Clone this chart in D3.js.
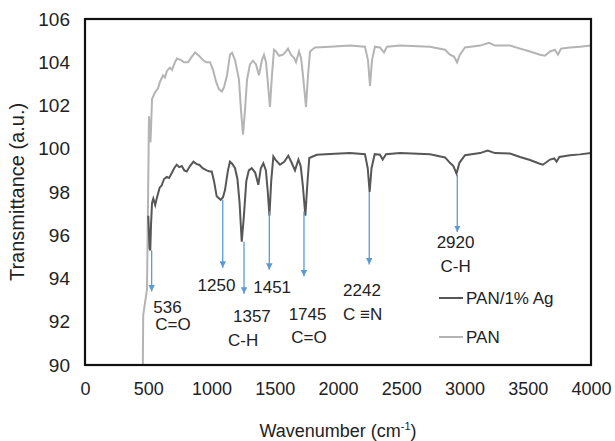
<!DOCTYPE html>
<html>
<head>
<meta charset="utf-8">
<script src="https://cdn.jsdelivr.net/npm/d3@7"></script>
<style>
  body { margin: 0; background: #fff; }
  text { font-family: "Liberation Sans", Arial, sans-serif; fill: #222; }
</style>
</head>
<body>
<div id="my_dataviz"></div>
<script>
// spectrum data: [wavenumber, transmittance]
const panData = [
  [455, 88], [460, 92.3], [490, 93.5], [506, 101.5], [518, 100.3], [530, 102.3],
  [553, 102.6], [577, 102.8], [593, 103.1], [617, 103.4], [632, 103.3], [648, 103.6],
  [672, 103.75], [688, 103.65], [711, 104.0], [727, 104.17], [759, 104.1], [783, 104.0],
  [814, 104.0], [838, 104.2], [870, 104.45], [901, 104.3], [933, 104.1], [957, 104.0],
  [988, 104.0], [1012, 103.65], [1036, 103.1], [1059, 102.75], [1083, 102.65], [1099, 102.85],
  [1123, 103.4], [1146, 104.35], [1162, 104.44], [1186, 104.1], [1217, 103.2], [1233, 101.8],
  [1249, 100.65], [1265, 101.8], [1281, 103.2], [1304, 103.9], [1328, 104.07], [1352, 103.9],
  [1375, 103.4], [1399, 104.1], [1415, 104.35], [1431, 104.0], [1447, 102.95], [1462, 101.93],
  [1478, 103.4], [1494, 104.58], [1510, 104.5], [1534, 104.3], [1565, 104.35], [1589, 104.5],
  [1605, 104.63], [1628, 104.35], [1652, 104.2], [1668, 104.0], [1692, 104.5], [1708, 104.2],
  [1723, 103.4], [1747, 101.93], [1763, 103.4], [1779, 104.5], [1818, 104.68], [1937, 104.72],
  [2095, 104.77], [2213, 104.72], [2237, 104.1], [2253, 102.9], [2269, 104.1], [2292, 104.72],
  [2332, 104.68], [2364, 104.45], [2387, 104.72], [2490, 104.77], [2727, 104.72], [2846, 104.58],
  [2885, 104.35], [2917, 104.26], [2941, 104.0], [2964, 104.35], [3004, 104.68], [3123, 104.77],
  [3194, 104.9], [3241, 104.77], [3360, 104.77], [3439, 104.63], [3518, 104.5], [3597, 104.35],
  [3636, 104.3], [3676, 104.5], [3715, 104.58], [3739, 104.35], [3763, 104.63], [3834, 104.68],
  [3913, 104.72], [4000, 104.77]
];

const panAgData = [
  [500, 96.9], [505, 96.2], [510, 95.4], [516, 95.3], [522, 96.5], [530, 97.5],
  [540, 97.7], [555, 97.4], [567, 97.7], [590, 98.2], [606, 98.3], [625, 98.6],
  [646, 98.7], [665, 98.65], [685, 98.87], [705, 99.1], [725, 99.26], [745, 99.15],
  [765, 99.2], [785, 99.0], [804, 98.95], [830, 99.2], [857, 99.4], [880, 99.3],
  [905, 99.25], [930, 99.1], [962, 99.0], [985, 98.95], [1002, 98.95], [1020, 98.5],
  [1041, 97.8], [1072, 97.64], [1090, 97.75], [1107, 98.1], [1130, 99.0], [1146, 99.4],
  [1165, 99.3], [1186, 99.1], [1205, 98.6], [1222, 97.5], [1239, 95.7], [1255, 96.8],
  [1275, 98.5], [1295, 99.0], [1318, 99.1], [1345, 98.9], [1370, 98.33], [1390, 99.1],
  [1410, 99.33], [1430, 99.0], [1445, 98.0], [1458, 96.9], [1472, 98.5], [1489, 99.64],
  [1505, 99.5], [1541, 99.26], [1575, 99.4], [1607, 99.68], [1630, 99.4], [1660, 99.0],
  [1687, 99.5], [1705, 99.2], [1722, 98.3], [1742, 96.9], [1758, 98.4], [1773, 99.57],
  [1832, 99.72], [1937, 99.76], [2095, 99.8], [2213, 99.75], [2235, 99.1], [2250, 98.0],
  [2265, 99.1], [2290, 99.75], [2332, 99.72], [2353, 99.5], [2380, 99.75], [2490, 99.8],
  [2727, 99.75], [2846, 99.6], [2885, 99.35], [2912, 99.2], [2937, 98.85], [2960, 99.35],
  [3004, 99.7], [3123, 99.8], [3183, 99.92], [3241, 99.8], [3360, 99.78], [3439, 99.62],
  [3518, 99.48], [3590, 99.32], [3620, 99.26], [3676, 99.5], [3710, 99.55], [3728, 99.4],
  [3750, 99.62], [3834, 99.7], [3913, 99.74], [4000, 99.8]
];

// peak annotations: arrow wavenumber, arrow top/bottom (a.u.)
const peakWave = [527, 1089, 1257, 1457, 1731, 2247, 2943];
const peakTop = [95.3, 97.64, 95.7, 97.1, 97.1, 98.0, 98.8];
const peakEnd = [93.4, 94.5, 93.3, 94.4, 94.1, 94.65, 96.15];
// peak labels: [wavenumber, transmittance, text]
const peakLabels = [
  [540, 92.4, "536"], [555, 91.6, "C=O"],
  [890, 93.4, "1250"],
  [1170, 92.0, "1357"], [1130, 90.9, "C-H"],
  [1330, 93.35, "1451"],
  [1610, 92.1, "1745"], [1630, 91.0, "C=O"],
  [2040, 93.2, "2242"], [2040, 92.1, "C \u2261N"],
  [2780, 95.4, "2920"], [2810, 94.3, "C-H"]
];

const xTicks = [0, 500, 1000, 1500, 2000, 2500, 3000, 3500, 4000];
const yTicks = [90, 92, 94, 96, 98, 100, 102, 104, 106];

const seriesNames = ["PAN/1% Ag", "PAN"];
const seriesColors = ["#575757", "#b4b4b4"];

const W = 615, H = 441;
const margin = {top: 19, right: 24, bottom: 76, left: 85};

const svg = d3.select("#my_dataviz")
  .append("svg")
    .attr("width", W)
    .attr("height", H);

const x = d3.scaleLinear().domain([0, 4000]).range([margin.left, W - margin.right]);
const y = d3.scaleLinear().domain([90, 106]).range([H - margin.bottom, margin.top]);

svg.append("defs").append("clipPath")
    .attr("id", "clip")
  .append("rect")
    .attr("x", x(0)).attr("y", y(106))
    .attr("width", x(4000) - x(0)).attr("height", y(90) - y(106));

svg.select("defs").append("marker")
    .attr("id", "arrow")
    .attr("viewBox", "0 0 10 10")
    .attr("refX", 10).attr("refY", 5)
    .attr("markerWidth", 6.5).attr("markerHeight", 6.5)
    .attr("markerUnits", "userSpaceOnUse")
    .attr("orient", "auto")
  .append("path")
    .attr("d", "M0,0L10,5L0,10Z")
    .attr("fill", "#5b9bd5");

// Y axis
svg.append("g")
    .attr("transform", `translate(${x(0)},0)`)
    .call(d3.axisLeft(y).tickValues(yTicks).tickSize(0).tickPadding(15))
    .call(g => g.select(".domain").remove())
    .selectAll("text")
      .style("font-size", "19px")
      .style("font-family", "Liberation Sans, Arial, sans-serif")
      .attr("fill", "#222");

// X axis
svg.append("g")
    .attr("transform", `translate(0,${y(90)})`)
    .call(d3.axisBottom(x).tickValues(xTicks).tickFormat(d3.format("d")).tickSize(0).tickPadding(17))
    .call(g => g.select(".domain").remove())
    .selectAll("text")
      .style("font-size", "18px")
      .style("font-family", "Liberation Sans, Arial, sans-serif")
      .attr("fill", "#222");

// lines
const line = d3.line().x(d => x(d[0])).y(d => y(d[1]));
const plot = svg.append("g").attr("clip-path", "url(#clip)");

plot.append("path")
    .datum(panData)
    .attr("fill", "none")
    .attr("stroke", seriesColors[1])
    .attr("stroke-width", 2)
    .attr("d", line);

plot.append("path")
    .datum(panAgData)
    .attr("fill", "none")
    .attr("stroke", seriesColors[0])
    .attr("stroke-width", 2)
    .attr("d", line);

// arrows
svg.selectAll("line.peak")
  .data(peakWave)
  .join("line")
    .attr("class", "peak")
    .attr("x1", d => x(d))
    .attr("x2", d => x(d))
    .attr("y1", (d, i) => y(peakTop[i]))
    .attr("y2", (d, i) => y(peakEnd[i]))
    .attr("stroke", "#5b9bd5")
    .attr("stroke-width", 1.3)
    .attr("marker-end", "url(#arrow)");

svg.selectAll("text.peak")
  .data(peakLabels)
  .join("text")
    .attr("class", "peak")
    .attr("x", d => x(d[0]))
    .attr("y", d => y(d[1]))
    .style("font-size", "17px")
    .text(d => d[2]);

// frame
svg.append("rect")
    .attr("x", x(0)).attr("y", y(106))
    .attr("width", x(4000) - x(0)).attr("height", y(90) - y(106))
    .attr("fill", "none")
    .attr("stroke", "#111")
    .attr("stroke-width", 2.2);

// legend
const legend = svg.append("g").attr("transform", "translate(439,298)");
seriesNames.forEach((name, i) => {
  const g = legend.append("g").attr("transform", `translate(0,${i * 39})`);
  g.append("line")
      .attr("x1", 0).attr("x2", 24)
      .attr("stroke", seriesColors[i])
      .attr("stroke-width", 2);
  g.append("text")
      .attr("x", 27).attr("y", 6)
      .style("font-size", "17px")
      .attr("fill", "#333")
      .text(name);
});

// axis titles
svg.append("text")
    .attr("x", (x(0) + x(4000)) / 2)
    .attr("y", 437)
    .attr("text-anchor", "middle")
    .style("font-size", "18px")
    .html('Wavenumber (cm<tspan dy="-7" font-size="11px">-1</tspan><tspan dy="7">)</tspan>');

svg.append("text")
    .attr("transform", `translate(24,${(y(90) + y(106)) / 2}) rotate(-90)`)
    .attr("text-anchor", "middle")
    .style("font-size", "20px")
    .text("Transmittance (a.u.)");
</script>
</body>
</html>
